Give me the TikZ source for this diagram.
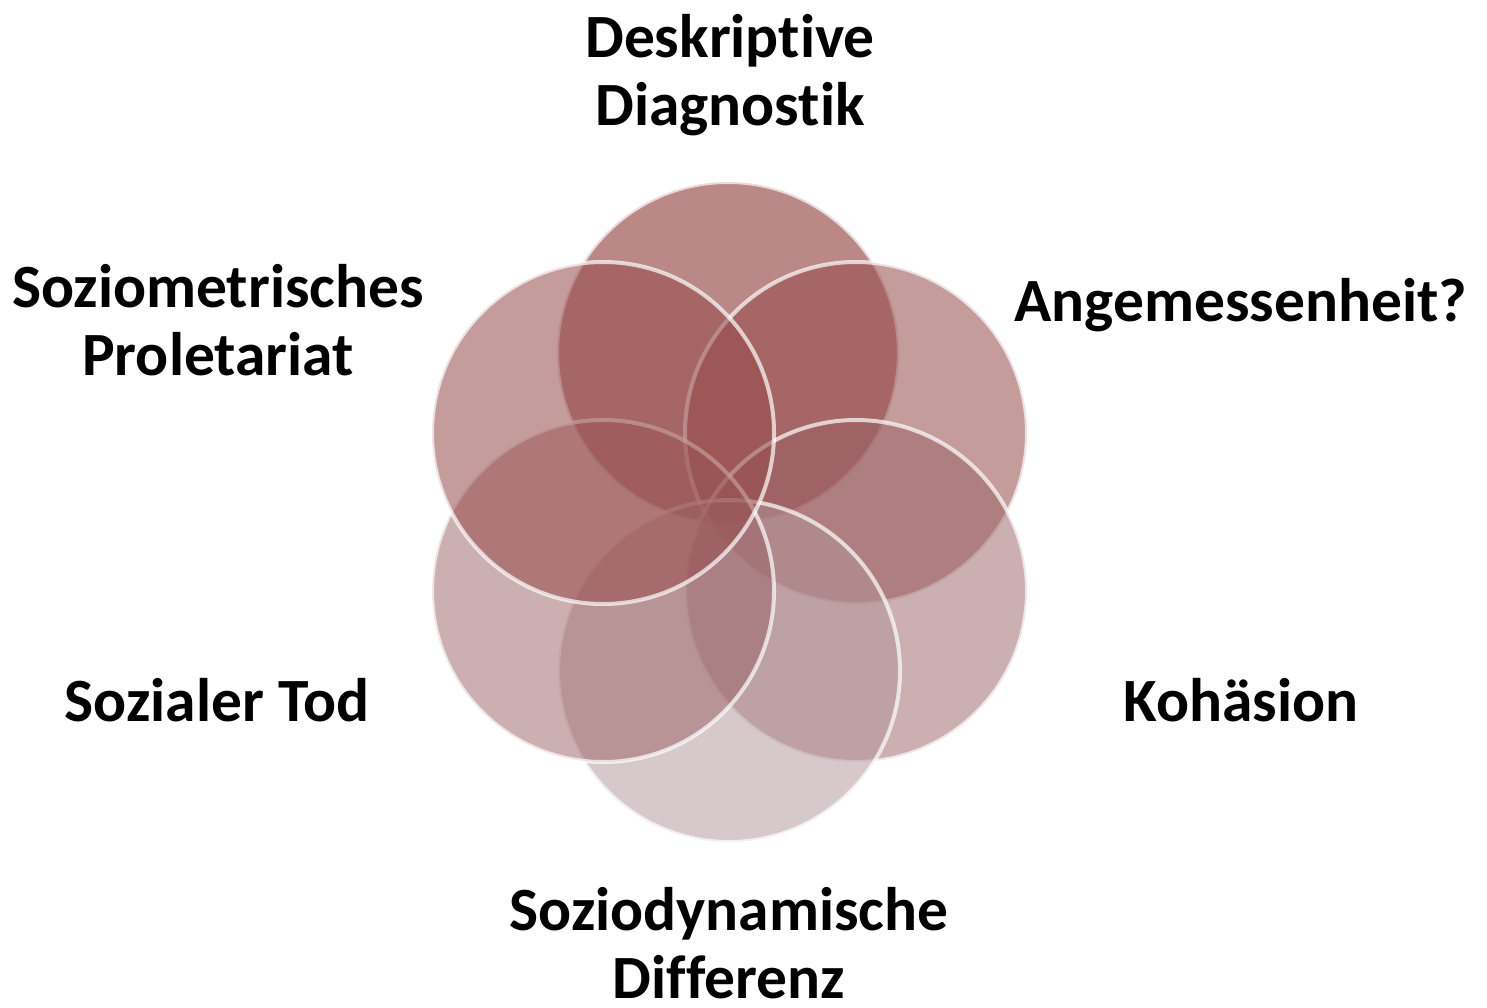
\documentclass[tikz,border=0pt]{standalone}
\usepackage{fontspec}
\setmainfont[Ligatures=NoCommon]{Carlito}
\definecolor{ctop}{RGB}{142,58,58}
\definecolor{cup}{RGB}{150,75,75}
\definecolor{clow}{RGB}{155,97,101}
\definecolor{cbot}{RGB}{176,148,153}
\tikzset{
  disc/.style={circle, minimum size=342pt, inner sep=0pt, draw=white, draw opacity=0.7, line width=4pt},
  lab/.style={font=\bfseries\fontsize{61.5}{68}\selectfont, align=center, text=black, inner sep=0pt}
}
\begin{document}
\begin{tikzpicture}[x=1pt,y=-1pt]
\useasboundingbox (0,0) rectangle (1487,1008);
\fill[white] (0,0) rectangle (1487,1008);
% circles
\node[disc, fill=ctop, fill opacity=0.6] (ctop) at (728,353) {};
\node[disc, fill=cup, fill opacity=0.55] (cur) at (856,433) {};
\node[disc, fill=clow, fill opacity=0.5] (clr) at (856,591) {};
\node[disc, fill=cbot, fill opacity=0.5] (cbt) at (729,671) {};
\node[disc, fill=clow, fill opacity=0.5] (cll) at (603,591) {};
\node[disc, fill=cup, fill opacity=0.55] (cul) at (603,433) {};
% labels
\node[lab] (ltop) at (730,75) {Deskriptive\\Diagnostik};
\node[lab] (lul) at (218,320) {Soziometrisches\\Proletariat};
\node[lab] (lur) at (1241,305) {Angemessenheit?};
\node[lab] (llr) at (1241,700) {Kohäsion};
\node[lab] (lll) at (217,700) {Sozialer Tod};
\node[lab] (lbt) at (729,943) {Soziodynamische\\Differenz};
\end{tikzpicture}
\end{document}
